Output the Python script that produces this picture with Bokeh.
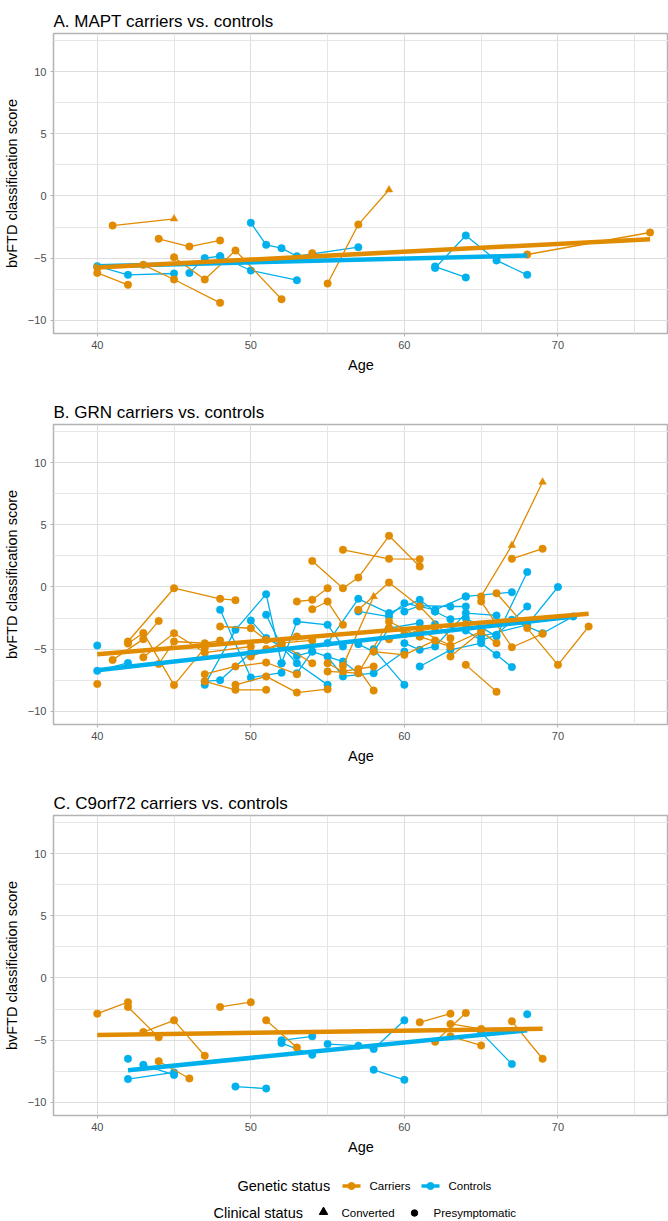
from bokeh.plotting import figure
from bokeh.layouts import column
from bokeh.models import ColumnDataSource, FixedTicker, Range1d
from bokeh.embed import file_html
from bokeh.resources import INLINE
from bokeh.core.properties import value

ORANGE = "#E08B00"
BLUE = "#00B0EC"
FONT = "Liberation Sans"

# ---------------- Panel A: MAPT ----------------
A_car_age = [[41, 45], [44, 46, 48], [40, 43, 45, 48], [40, 42], [45, 47, 49, 52],
             [54], [55, 57, 59], [68, 76]]
A_car_score = [[-2.38, -1.84], [-3.45, -4.07, -3.58], [-5.75, -5.54, -6.72, -8.6],
               [-6.19, -7.15], [-4.93, -6.72, -4.39, -8.31], [-4.6],
               [-7.05, -2.3, 0.5], [-4.71, -2.94]]
A_car_status = ["PC", "PPP", "PPPP", "PP", "PPPP", "P", "PPC", "PP"]
A_con_age = [[40, 42, 45], [46, 47, 48], [48, 50, 53], [50, 51, 52, 53, 57],
             [62, 64], [62, 64, 66, 68]]
A_con_score = [[-5.65, -6.35, -6.24], [-6.19, -5.0, -4.85], [-4.85, -6.0, -6.78],
               [-2.16, -3.93, -4.2, -4.85, -4.12], [-5.68, -6.56],
               [-5.8, -3.18, -5.19, -6.35]]
A_con_status = ["PPP", "PPP", "PPP", "PPPPP", "PP", "PPPP"]
A_fit_car = ([40, 76], [-5.75, -3.48])
A_fit_con = ([40, 68], [-5.65, -4.8])

# ---------------- Panel B: GRN ----------------
B_car_age = [[40], [41, 43, 44], [42, 45, 48, 49], [42, 43, 45, 47], [43, 45, 47, 50],
             [44, 45, 47, 48], [47, 49, 51, 53], [47, 49, 51], [48, 50, 51, 53],
             [49, 51, 53, 55], [50, 52, 54], [53, 54, 55], [54, 56, 57, 59, 61],
             [56, 59, 61], [54, 55, 56], [56, 58], [57, 59, 61, 63], [55, 56, 58],
             [55, 57, 59, 61], [57, 58], [58, 60, 62], [59, 61, 63, 65], [63, 65, 66],
             [64, 66], [65, 67, 69], [67, 69], [66, 68, 70, 72], [65, 67, 69],
             [60, 62, 64], [51, 52, 54], [59, 61, 63]]
B_car_score = [[-7.8], [-5.87, -4.2, -2.73], [-4.39, -0.1, -0.95, -1.06],
               [-4.55, -3.7, -7.9, -4.9], [-5.65, -3.72, -5.28, -4.79],
               [-6.2, -4.39, -4.53, -4.31], [-7.02, -6.4, -6.08, -7.02],
               [-7.6, -8.28, -8.28], [-3.18, -3.32, -4.26, -3.99],
               [-7.88, -7.2, -8.5, -8.23], [-5.6, -4.6, -6.14], [-1.17, -1.03, -0.1],
               [2.1, -0.1, 0.76, 4.12, 1.65], [2.99, 2.27, 2.24], [-1.79, -1.17, -3.05],
               [-6.35, -0.77], [-1.84, 0.36, -1.57, -4.12], [-6.14, -6.8, -6.4],
               [-6.8, -6.94, -2.78, -3.99], [-6.6, -8.34], [-5.2, -5.46, -4.3],
               [-4.2, -3.5, -4.71, -3.58], [-5.6, -3.58, -4.52], [-6.27, -8.44],
               [-0.76, 3.35, 8.45], [2.27, 3.08], [-0.5, -3.31, -6.27, -3.18],
               [-1.16, -4.85, -3.77], [-3.8, -3.3, -3.0], [-5.0, -4.5, -4.3],
               [-3.3, -3.99, -4.8]]
B_car_status = ["P", "PPP", "PPPP", "PPPP", "PPPP", "PPPP", "PPPP", "PPP", "PPPP",
                "PPPP", "PPP", "PPP", "PPPPP", "PPP", "PPP", "PC", "PPPP", "PPP",
                "PPPP", "PP", "PPP", "PPPP", "PPP", "PP", "PCC", "PP", "PPPP", "PPP",
                "PPP", "PPP", "PPP"]
B_con_age = [[40], [40, 42], [47, 49, 51, 52], [48, 50, 52], [47, 48, 50],
             [50, 51, 53, 54], [51, 52, 53, 55], [52, 53, 55, 56], [53, 54, 56, 57],
             [55, 56, 58, 60], [55, 57, 59, 61, 62], [57, 59, 60, 62, 64],
             [60, 61, 63, 64], [58, 60], [60, 61, 62, 64, 66], [61, 63, 65, 66, 67],
             [62, 63, 64, 66, 68], [64, 67], [65, 68, 70], [62, 64, 65, 66, 68],
             [67, 69, 71], [57, 58, 59, 61]]
B_con_score = [[-4.71], [-6.75, -6.11], [-7.88, -3.45, -0.58, -6.14], [-1.84, -7.29, -6.9],
               [-7.6, -7.5, -5.3], [-2.7, -4.1, -5.55, -5.2], [-2.24, -4.8, -6.14, -7.88],
               [-6.14, -2.78, -3.05, -4.79], [-6.94, -5.2, -6.0, -6.94],
               [-5.6, -7.2, -6.94, -5.2], [-4.5, -0.95, -2.1, -1.03, -1.97],
               [-1.97, -2.38, -1.3, -1.84, -0.76], [-1.97, -1.5, -1.57, -1.57],
               [-5.0, -7.88], [-4.52, -5.06, -4.79, -2.1, -2.29],
               [-6.4, -5.06, -4.52, -5.46, -6.45], [-1.97, -2.6, -2.51, -3.98, 1.2],
               [-0.76, -0.42], [-3.98, -3.05, 0.0], [-3.0, -3.5, -4.3, -3.85, -1.57],
               [-2.64, -3.72, -2.37], [-4.6, -5.2, -3.32, -2.9]]
B_con_status = ["P" * len(a) for a in B_con_age]
B_fit_car = ([40, 72], [-5.42, -2.16])
B_fit_con = ([40, 71], [-6.7, -2.38])

# ---------------- Panel C: C9orf72 ----------------
C_car_age = [[40, 42], [42, 44], [43, 45, 47], [44, 46], [48, 50], [51, 53],
             [61, 63], [62, 64], [63, 65], [63, 65], [67, 69]]
C_car_score = [[-2.87, -1.95], [-2.33, -4.78], [-4.35, -3.41, -6.26], [-6.7, -8.09],
               [-2.33, -1.95], [-3.41, -5.59], [-3.57, -2.87], [-5.13, -2.81],
               [-3.7, -4.1], [-4.7, -5.43], [-3.49, -6.5]]
C_car_status = ["P" * len(a) for a in C_car_age]
C_con_age = [[42], [42, 45], [43, 45], [49, 51], [52, 54], [52, 54],
             [55, 57, 58, 60], [58, 60], [65, 67], [68]]
C_con_score = [[-6.5], [-8.14, -7.6], [-6.99, -7.8], [-8.74, -8.9], [-5.02, -4.7],
               [-5.24, -6.18], [-5.32, -5.45, -5.72, -3.41], [-7.39, -8.2],
               [-4.4, -6.93], [-2.92]]
C_con_status = ["P" * len(a) for a in C_con_age]
C_fit_car = ([40, 69], [-4.59, -4.08])
C_fit_con = ([42, 68], [-7.42, -4.21])

titles = ["A. MAPT carriers vs. controls", "B. GRN carriers vs. controls",
          "C. C9orf72 carriers vs. controls"]
x_major = [40, 50, 60, 70]
x_minor = [45, 55, 65, 75]
y_major = [-10, -5, 0, 5, 10]
y_minor = [-7.5, -2.5, 2.5, 7.5, 12.5]


def add_group(p, ages, scores, status, color):
    p.multi_line(xs=ages, ys=scores, line_color=color, line_width=1.3)
    px, py, pm = [], [], []
    for a, s, st in zip(ages, scores, status):
        for xi, yi, ci in zip(a, s, st):
            px.append(xi)
            py.append(yi)
            pm.append("triangle" if ci == "C" else "circle")
    src = ColumnDataSource(dict(x=px, y=py, m=pm))
    p.scatter("x", "y", marker="m", size=7.5, fill_color=color, line_color=color,
              line_width=0.5, source=src)


def make_panel(title, car, con, fit_car, fit_con):
    p = figure(width=668, height=391, x_range=Range1d(37.15, 77.2),
               y_range=Range1d(-11.07, 13.08), output_backend="svg",
               toolbar_location=None, min_border_left=53, min_border_right=0,
               min_border_top=33, min_border_bottom=58)
    p.title.text = title
    p.title.text_font = FONT
    p.title.text_font_size = "17px"
    p.title.text_font_style = "normal"
    p.title.text_color = "#000000"
    p.title.align = "left"
    p.title.standoff = 6
    p.outline_line_color = "#b3b3b3"
    p.outline_line_width = 1.5
    p.background_fill_color = "white"
    p.border_fill_color = "white"

    p.xaxis.ticker = FixedTicker(ticks=x_major, minor_ticks=x_minor)
    p.yaxis.ticker = FixedTicker(ticks=y_major, minor_ticks=y_minor)
    for ax in (p.xaxis, p.yaxis):
        ax.axis_line_color = None
        ax.major_tick_line_color = "#b3b3b3"
        ax.major_tick_out = 3
        ax.major_tick_in = 0
        ax.minor_tick_line_color = None
        ax.major_label_text_font = FONT
        ax.major_label_text_font_size = "11px"
        ax.major_label_text_color = "#4d4d4d"
        ax.major_label_standoff = 3
        ax.axis_label_text_font = FONT
        ax.axis_label_text_font_size = "14.5px"
        ax.axis_label_text_font_style = "normal"
        ax.axis_label_text_color = "#000000"
        ax.axis_label_standoff = 5
    p.xaxis.axis_label = "Age"
    p.yaxis.axis_label = "bvFTD classification score"
    for g in (p.xgrid, p.ygrid):
        g.grid_line_color = "#dedede"
        g.grid_line_width = 1
        g.minor_grid_line_color = "#e6e6e6"
        g.minor_grid_line_width = 1

    add_group(p, con[0], con[1], con[2], BLUE)
    add_group(p, car[0], car[1], car[2], ORANGE)
    p.line(fit_con[0], fit_con[1], line_color=BLUE, line_width=4.5)
    p.line(fit_car[0], fit_car[1], line_color=ORANGE, line_width=4.5)
    return p


pA = make_panel(titles[0], (A_car_age, A_car_score, A_car_status),
                (A_con_age, A_con_score, A_con_status), A_fit_car, A_fit_con)
pB = make_panel(titles[1], (B_car_age, B_car_score, B_car_status),
                (B_con_age, B_con_score, B_con_status), B_fit_car, B_fit_con)
pC = make_panel(titles[2], (C_car_age, C_car_score, C_car_status),
                (C_con_age, C_con_score, C_con_status), C_fit_car, C_fit_con)

# ---------------- Legend ----------------
# The column aligns this frame with the panels' frames (left edge at 53 px),
# so the range is set so that one unit equals one pixel of the window.
leg = figure(width=668, height=48, x_range=Range1d(53, 668), y_range=Range1d(48, 0),
             output_backend="svg", toolbar_location=None, min_border_left=53,
             min_border_right=0, min_border_top=0, min_border_bottom=0,
             x_axis_location=None, y_axis_location=None)
leg.grid.visible = False
leg.outline_line_color = None
leg.text(x=[237, 213], y=[12.5, 39.5], text=["Genetic status", "Clinical status"],
         text_font=value(FONT), text_font_size=value("14.5px"), text_color="#000000",
         text_baseline="middle", text_align="left")
leg.text(x=[369, 448, 341, 433], y=[12.5, 12.5, 39.5, 39.5],
         text=["Carriers", "Controls", "Converted", "Presymptomatic"],
         text_font=value(FONT), text_font_size=value("11.5px"), text_color="#000000",
         text_baseline="middle", text_align="left")
leg.segment(x0=[342, 421], y0=[12.5, 12.5], x1=[360, 439], y1=[12.5, 12.5],
            line_color=[ORANGE, BLUE], line_width=3.5)
leg.scatter(x=[351, 430], y=[12.5, 12.5], size=7, color=[ORANGE, BLUE])
leg.scatter(x=[323], y=[38.5], marker="triangle", size=8.5, color="black")
leg.scatter(x=[414], y=[39.5], marker="circle", size=6.5, color="black")

layout = column(pA, pB, pC, leg, spacing=0)
open("out.html", "w").write(file_html(layout, INLINE))
